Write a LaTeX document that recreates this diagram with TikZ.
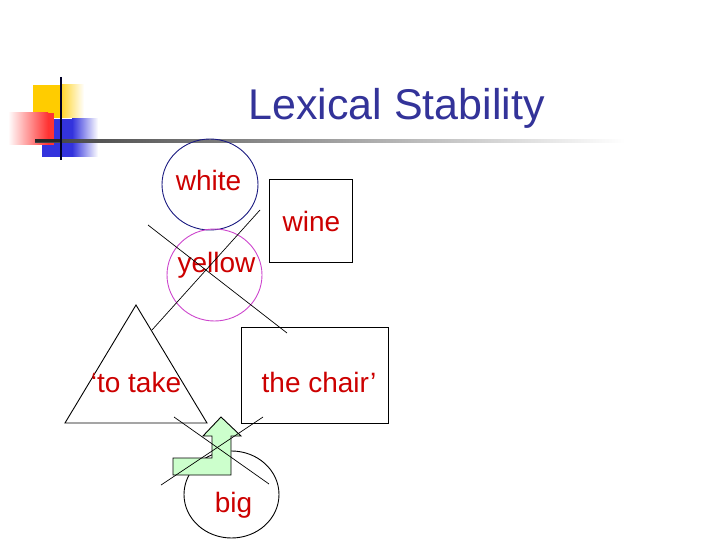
\documentclass[tikz,border=0pt]{standalone}
\usepackage{fontspec}
\setmainfont{Liberation Sans}
\usetikzlibrary{shapes.geometric}
\definecolor{titleblue}{HTML}{333399}
\definecolor{labelred}{HTML}{CC0000}
\definecolor{circnavy}{HTML}{1A1A80}
\definecolor{circmag}{HTML}{CC44CC}
\definecolor{arrowgreen}{HTML}{CCFFCC}
\definecolor{logoyellow}{HTML}{FFCC00}
\definecolor{logored}{HTML}{FF3333}
\definecolor{logoblue}{HTML}{3333DD}
\tikzset{
  lbl/.style={anchor=base, text=labelred, font=\fontsize{28}{30}\selectfont, inner sep=0pt},
  oval/.style={ellipse, inner sep=0pt, line width=0.9pt},
  box/.style={rectangle, draw=black, line width=0.9pt, inner sep=0pt},
  crossline/.style={draw=black, line width=0.7pt},
}
\begin{document}
\begin{tikzpicture}[x=1pt,y=-1pt]
\useasboundingbox (0,0) rectangle (720,540);
% logo
\fill[logoyellow] (33,85) rectangle (62,118);
\shade[left color=logoyellow!80, right color=white] (62,85) rectangle (84,118);
\fill[logoblue] (42,119) rectangle (72,157);
\shade[left color=logoblue, right color=white] (72,119) rectangle (98,157);
\shade[left color=white, right color=logored] (8,113) rectangle (48,145);
\fill[logored] (48,113) rectangle (54,145);
\shade[left color=black!75, right color=white] (35,139.5) rectangle (625,142.5);
\fill[black!85] (35,139.5) rectangle (62,142.5);
\draw[line width=2.6pt, color=black!85!blue] (61,77) -- (61,160);
% title
\node[anchor=base, text=titleblue, font=\fontsize{43}{48}\selectfont, inner sep=0pt] (title) at (396.5,120) {Lexical Stability};
% shapes
\node[oval, draw=circnavy, minimum width=96pt, minimum height=91pt] (whiteC) at (210,184.5) {};
\node[lbl] (whiteT) at (208.5,191) {white};
\node[box, minimum width=83pt, minimum height=83pt] (wineB) at (310.5,220.5) {};
\node[lbl] (wineT) at (311.5,232) {wine};
\node[oval, draw=circmag, minimum width=95pt, minimum height=92pt] (yellowC) at (214.5,275) {};
\node[lbl] (yellowT) at (216.5,272) {yellow};
% triangle
\coordinate (triA) at (136,305);
\coordinate (triL) at (65,423);
\coordinate (triR) at (207,423);
\draw[line width=0.9pt, line join=miter] (triA) -- (triL) -- (triR) -- cycle;
\node[lbl] (takeT) at (136,392) {‘to take};
\node[box, minimum width=147pt, minimum height=96pt] (chairB) at (314.5,375) {};
\node[lbl] (chairT) at (319,392) {the chair’};
% big circle
\node[oval, draw=black, minimum width=95pt, minimum height=87pt] (bigC) at (231.5,494.5) {};
% green bent arrow
\draw[fill=arrowgreen, line width=0.9pt, line join=miter]
  (221,417) -- (241,436) -- (231,436) -- (231,475) -- (173,475) -- (173,458)
  -- (212,458) -- (212,436) -- (203,436) -- cycle;
\node[lbl] (bigT) at (233.5,512) {big};
% crossing lines
\coordinate (c1a) at (148,225); \coordinate (c1b) at (287,333);
\coordinate (c2a) at (260,210); \coordinate (c2b) at (152,330);
\coordinate (c3a) at (174,417); \coordinate (c3b) at (269,484);
\coordinate (c4a) at (263,417); \coordinate (c4b) at (161,485);
\draw[crossline] (c1a) -- (c1b);
\draw[crossline] (c2a) -- (c2b);
\draw[crossline] (c3a) -- (c3b);
\draw[crossline] (c4a) -- (c4b);
\end{tikzpicture}
\end{document}
